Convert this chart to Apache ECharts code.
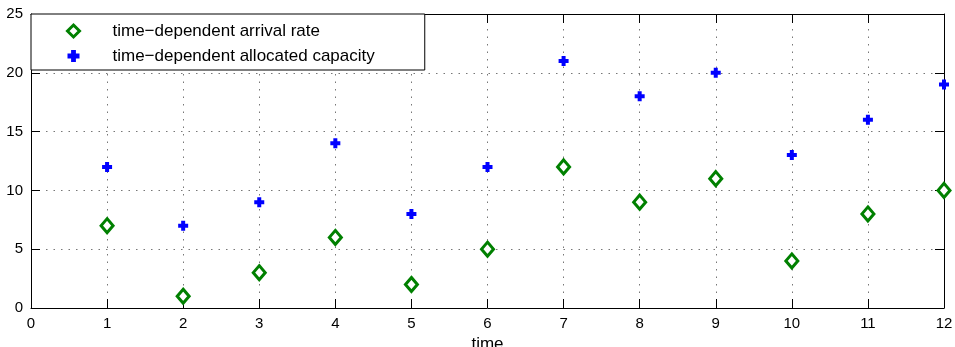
<!DOCTYPE html>
<html>
<head>
<meta charset="utf-8">
<script src="https://cdn.jsdelivr.net/npm/echarts@6/dist/echarts.min.js"></script>
<style>
  html, body { margin: 0; padding: 0; background: #fff; }
  #chart { width: 955px; height: 347px; }
</style>
</head>
<body>
<div id="chart"></div>
<script>
var times = [1, 2, 3, 4, 5, 6, 7, 8, 9, 10, 11, 12];
var arrivalRate = [7, 1, 3, 6, 2, 5, 12, 9, 11, 4, 8, 10];
var allocatedCapacity = [12, 7, 9, 14, 8, 12, 21, 18, 20, 13, 16, 19];
var seriesNames = ['time\u2212dependent arrival rate', 'time\u2212dependent allocated capacity'];

function pairs(xs, ys) {
    return xs.map(function (x, i) { return [x, ys[i]]; });
}

var font = '"Liberation Sans", Arial, sans-serif';
var plusPath = 'path://M3,0 H7 V3 H10 V7 H7 V10 H3 V7 H0 V3 H3 Z';
var gridLine = { color: '#777', type: [1.5, 6], width: 1 };

var chart = echarts.init(document.getElementById('chart'));

// hidden twin axes give the ticks on top and right like the original
function xAxisCfg(pos, labels) {
    return {
        type: 'value', position: pos, min: 0, max: 12, interval: 1,
        name: labels ? 'time' : '', nameLocation: 'middle', nameGap: 27,
        nameTextStyle: { fontFamily: font, fontSize: 17, color: '#000' },
        axisLine: { show: true, onZero: false, lineStyle: { color: '#000', width: 1 } },
        axisTick: { show: true, inside: true, length: 9, lineStyle: { color: '#000' } },
        axisLabel: { show: labels, fontFamily: font, fontSize: 15, color: '#000', margin: 8 },
        splitLine: { show: labels, lineStyle: gridLine }
    };
}
function yAxisCfg(pos, labels) {
    return {
        type: 'value', position: pos, min: 0, max: 25, interval: 5,
        axisLine: { show: true, onZero: false, lineStyle: { color: '#000', width: 1 } },
        axisTick: { show: true, inside: true, length: 9, lineStyle: { color: '#000' } },
        axisLabel: { show: labels, fontFamily: font, fontSize: 15, color: '#000', margin: 8 },
        splitLine: { show: labels, lineStyle: gridLine }
    };
}

var option = {
    animation: false,
    backgroundColor: '#fff',
    grid: { left: 31, right: 11, top: 14, bottom: 39, outerBoundsMode: 'none', containLabel: false },
    legend: {
        orient: 'vertical',
        left: 31, top: 14,
        padding: [8, 50, 5, 35],
        itemWidth: 12, itemHeight: 12, itemGap: 7,
        backgroundColor: '#fff',
        borderColor: '#000', borderWidth: 1,
        textStyle: { fontFamily: font, fontSize: 17, color: '#000', lineHeight: 18, padding: [0, 0, 0, 28] },
        data: [
            { name: seriesNames[0], itemStyle: { borderWidth: 3 } },
            { name: seriesNames[1] }
        ]
    },
    xAxis: [xAxisCfg('bottom', true), xAxisCfg('top', false)],
    yAxis: [yAxisCfg('left', true), yAxisCfg('right', false)],
    series: [
        {
            name: seriesNames[0],
            type: 'scatter',
            symbol: 'diamond',
            symbolSize: [12, 14],
            itemStyle: { color: '#fff', borderColor: '#008000', borderWidth: 3, opacity: 1 },
            data: pairs(times, arrivalRate),
            z: 3
        },
        {
            name: seriesNames[1],
            type: 'scatter',
            symbol: plusPath,
            symbolSize: 10,
            itemStyle: { color: '#0000ff', opacity: 1 },
            data: pairs(times, allocatedCapacity),
            z: 3
        }
    ]
};
chart.setOption(option);
</script>
</body>
</html>
